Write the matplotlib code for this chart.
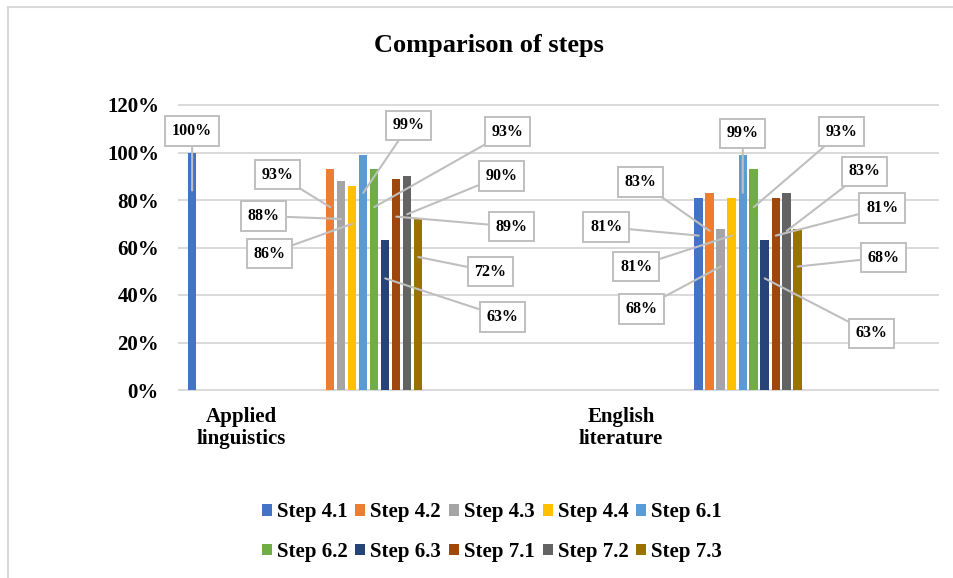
import matplotlib
matplotlib.use("Agg")
import matplotlib.pyplot as plt
import matplotlib.transforms as mtransforms
from matplotlib.patches import Patch
from matplotlib.lines import Line2D

# ---- data -------------------------------------------------------------
categories = ["Applied\nlinguistics", "English\nliterature"]
steps = ["Step 4.1", "Step 4.2", "Step 4.3", "Step 4.4", "Step 6.1",
         "Step 6.2", "Step 6.3", "Step 7.1", "Step 7.2", "Step 7.3"]
applied_linguistics = [100, 93, 88, 86, 99, 93, 63, 89, 90, 72]
english_literature = [81, 83, 68, 81, 99, 93, 63, 81, 83, 68]
y_ticks = [0, 20, 40, 60, 80, 100, 120]

# ---- style ------------------------------------------------------------
colors = ["#4472C4", "#ED7D31", "#A5A5A5", "#FFC000", "#5B9BD5",
          "#70AD47", "#264478", "#9E480E", "#636363", "#997300"]
grid_color = "#D9D9D9"
callout_color = "#BFBFBF"

# callout placement relative to each bar top (pixels: right, down)
applied_callouts = [(0, -21.5), (-53, 5.4), (-77.5, 35), (-83, 67.8),
                    (45.5, -29.4), (133.5, -37.6), (117.5, 76.6),
                    (115, 47.9), (94, -0.3), (72, 52.5)]
english_callouts = [(-92.5, 29.4), (-69.5, -10.9), (-79.5, 80.5),
                    (-95.5, 68.9), (0, -21.4), (88, -37.6), (106.5, 93.1),
                    (106.5, 10.4), (77.5, -21.4), (85.5, 29)]

plt.rcParams["font.family"] = ["Liberation Serif", "DejaVu Serif"]
plt.rcParams["font.weight"] = "bold"

W, H = 954, 578
fig = plt.figure(figsize=(W / 100, H / 100), dpi=100)
ax = fig.add_axes([179 / W, 1 - 390 / H, (938 - 179) / W, (390 - 105) / H])

n = len(steps)
pitch = 11 / 379.5
bar_w = 8.5 / 379.5
label_shift = -0.335   # category captions (and the first applied bar) sit left

series = [applied_linguistics, english_literature]
callouts = [applied_callouts, english_callouts]

leader_anchor = mtransforms.offset_copy(ax.transData, fig=fig, x=0, y=-38,
                                        units="dots")

for ci, values in enumerate(series):
    for j, v in enumerate(values):
        x = ci + (j - (n - 1) / 2) * pitch
        if ci == 0 and j == 0:
            x += label_shift
        ax.bar(x, v, width=bar_w, color=colors[j], zorder=2)
        dx, dy = callouts[ci][j]
        ax.annotate(f"{v}%", xy=(x, v), xycoords=leader_anchor,
                    xytext=(dx, 38 - dy), textcoords="offset pixels",
                    ha="center", va="center", fontsize=11.5, fontweight="bold",
                    bbox=dict(boxstyle="square,pad=0.42", fc="white",
                              ec=callout_color, lw=1.4),
                    arrowprops=dict(arrowstyle="-", color=callout_color,
                                    lw=1.5, shrinkA=0, shrinkB=0),
                    zorder=5)

ax.set_xlim(-0.5, 1.5)
ax.set_ylim(0, 120)
ax.set_yticks(y_ticks)
ax.set_yticklabels([f"{t}%" for t in y_ticks], fontsize=15, fontweight="bold")
ax.set_xticks([i + label_shift for i in range(len(categories))])
ax.set_xticklabels(categories, fontsize=15, fontweight="bold", linespacing=1.15)
ax.tick_params(axis="both", length=0)
ax.tick_params(axis="y", pad=14.4)
ax.tick_params(axis="x", pad=12)
for s in ax.spines.values():
    s.set_visible(False)
ax.set_axisbelow(True)
ax.yaxis.grid(True, color=grid_color, lw=1.4)
for gl in ax.get_ygridlines():
    gl.set_clip_on(False)

# title
fig.text(489 / W, 1 - 51.7 / H, "Comparison of steps", ha="center",
         va="baseline", fontsize=19, fontweight="bold")

# legend, filled row by row (5 per row)
ncol = 5
nrow = (n + ncol - 1) // ncol
order = [r * ncol + c for c in range(ncol) for r in range(nrow)]
handles = [Patch(facecolor=colors[k], edgecolor="none") for k in order]
fig.legend(handles, [steps[k] for k in order], loc="center", ncol=ncol,
           bbox_to_anchor=(492 / W, 1 - 532 / H), frameon=False,
           prop=dict(size=15, weight="bold"), handlelength=0.48,
           handleheight=0.48, handletextpad=0.24, columnspacing=0.38,
           labelspacing=0.95, borderpad=0)

# chart area outline (top and left edges)
fig.add_artist(Line2D([8 / W, 1], [1 - 7 / H, 1 - 7 / H], color=grid_color,
                      lw=1.5, transform=fig.transFigure))
fig.add_artist(Line2D([8 / W, 8 / W], [0, 1 - 7 / H], color=grid_color,
                      lw=1.5, transform=fig.transFigure))

fig.savefig("out.png", dpi=100, facecolor="white")
